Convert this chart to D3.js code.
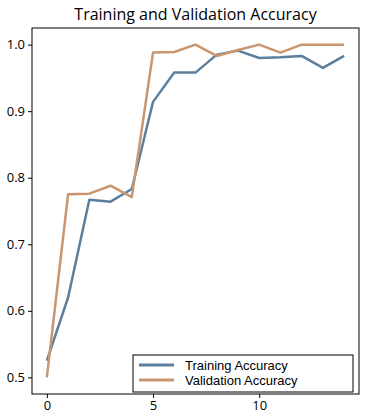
<!DOCTYPE html>
<html>
<head>
<meta charset="utf-8">
<script src="https://cdn.jsdelivr.net/npm/d3@7"></script>
<style>
  body { margin: 0; background: #fff; }
  text { font-family: "Open Sans", Lato, sans-serif; }
  .legend text { font-family: "Liberation Sans", Arial, sans-serif; }
</style>
</head>
<body>
<div id="chart"></div>
<script>
// epochs and accuracy values
const epochs = d3.range(0, 15);
const trainAcc = [0.525, 0.620, 0.767, 0.764, 0.783, 0.914, 0.958, 0.958, 0.985, 0.991, 0.980, 0.981, 0.983, 0.965, 0.983];
const valAcc = [0.500, 0.775, 0.776, 0.788, 0.771, 0.988, 0.989, 1.000, 0.983, 0.992, 1.000, 0.988, 1.000, 1.000, 1.000];
const xTicks = [0, 5, 10];
const yTicks = [0.5, 0.6, 0.7, 0.8, 0.9, 1.0];
const seriesNames = ['Training Accuracy', 'Validation Accuracy'];
const colors = ['#5b7f9c', '#c9966f'];

const W = 367, H = 415;
const margin = { top: 28, right: 8, bottom: 21, left: 32 };
const iw = W - margin.left - margin.right;
const ih = H - margin.top - margin.bottom;

const svg = d3.select('#chart').append('svg')
    .attr('width', W)
    .attr('height', H);

const g = svg.append('g').attr('transform', `translate(${margin.left},${margin.top})`);

const x = d3.scaleLinear().domain([-0.7, 14.7]).range([0, iw]);
const y = d3.scaleLinear().domain([0.475, 1.025]).range([ih, 0]);

// axes
const xAxis = g.append('g')
    .attr('transform', `translate(0,${ih})`)
    .call(d3.axisBottom(x).tickValues(xTicks).tickSize(4).tickPadding(3).tickFormat(d3.format('d')));
const yAxis = g.append('g')
    .call(d3.axisLeft(y).tickValues(yTicks).tickSize(4).tickPadding(3).tickFormat(d3.format('.1f')));
[xAxis, yAxis].forEach(a => {
    a.select('.domain').remove();
    a.selectAll('text').style('font-size', '13px').attr('fill', '#000');
    a.selectAll('line').attr('stroke', '#000');
});

// frame
g.append('rect')
    .attr('width', iw).attr('height', ih)
    .attr('fill', 'none').attr('stroke', '#000').attr('stroke-width', 1);

const line = d3.line().x((d, i) => x(epochs[i])).y(d => y(d));

[trainAcc, valAcc].forEach((s, k) => {
    g.append('path')
        .datum(s)
        .attr('d', line)
        .attr('fill', 'none')
        .attr('stroke', colors[k])
        .attr('stroke-width', 2.5)
        .attr('stroke-linejoin', 'round');
});

// title
svg.append('text')
    .attr('x', margin.left + iw / 2)
    .attr('y', 20)
    .attr('text-anchor', 'middle')
    .style('font-size', '16px')
    .text('Training and Validation Accuracy');

// legend
const legend = g.append('g').attr('class', 'legend')
    .attr('transform', `translate(${133 - margin.left},${355 - margin.top})`);
legend.append('rect')
    .attr('width', 220).attr('height', 37)
    .attr('fill', '#fff').attr('stroke', '#000').attr('stroke-width', 1);
seriesNames.forEach((name, k) => {
    const ly = 10 + k * 15;
    legend.append('line')
        .attr('x1', 6).attr('x2', 41)
        .attr('y1', ly).attr('y2', ly)
        .attr('stroke', colors[k]).attr('stroke-width', 3);
    legend.append('text')
        .attr('x', 52).attr('y', ly + 4.5)
        .style('font-size', '13px')
        .text(name);
});
</script>
</body>
</html>
